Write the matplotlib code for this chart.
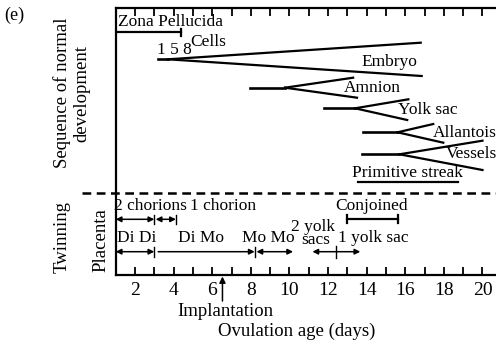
import matplotlib
matplotlib.use('Agg')
import matplotlib.pyplot as plt
from matplotlib.ticker import FixedLocator

plt.rcParams['font.family'] = ['Liberation Serif', 'DejaVu Serif']

# ---------------- data (days on x, row levels on y) ----------------
days_major = [2, 4, 6, 8, 10, 12, 14, 16, 18, 20]
days_minor = [1, 3, 5, 7, 9, 11, 13, 15, 17, 19]

fork_labels = ['Embryo', 'Amnion', 'Yolk sac', 'Allantois', 'Vessels']
fork_start = [3.2, 7.97, 11.8, 13.8, 13.78]
fork_split = [3.7, 9.77, 13.4, 15.6, 15.7]
fork_row = [59.3, 87.7, 108.3, 132.3, 154.3]
fork_up_end = [16.8, 13.3, 16.16, 17.45, 20.0]
fork_up_row = [42.7, 77.7, 99.3, 124.0, 140.7]
fork_lo_end = [16.85, 13.5, 16.1, 17.97, 20.0]
fork_lo_row = [76.0, 97.7, 120.0, 142.7, 170.0]

zona_span = [1.0, 4.4]
streak_span = [13.57, 18.72]
conjoined_span = [12.98, 15.6]

chorion_arrows = [(1.0, 3.0), (3.07, 4.12)]
amnion_arrows = [(1.0, 3.0), (8.29, 10.19)]
dimo_line = (3.2, 8.2)
yolk_arrow = (11.19, 13.67, 12.4)
implantation_day = 6.53

W, H = 496, 343
fig = plt.figure(figsize=(W / 100, H / 100), dpi=100)
ax = fig.add_axes([115.7 / W, 1 - 275 / H, 1 - 115.7 / W, (275 - 8) / H])
ax.set_xlim(1, 20.7)
ax.set_ylim(275, 8)

LW = 1.6
FS = 12.5

for s in ['left', 'top', 'bottom']:
    ax.spines[s].set_linewidth(LW)
ax.spines['right'].set_visible(False)
ax.set_yticks([])
ax.xaxis.set_major_locator(FixedLocator(days_major))
ax.xaxis.set_minor_locator(FixedLocator(days_minor))
ax.set_xticklabels([str(d) for d in days_major])
ax.tick_params(axis='x', which='both', direction='in', top=True, bottom=True,
               length=6, width=1.3, labelsize=14, pad=5)

# ---------------- sequence of normal development ----------------
ax.plot(zona_span, [32, 32], color='black', lw=LW)
ax.plot([zona_span[1]] * 2, [28.5, 35.5], color='black', lw=LW)
ax.text(1.12, 22.5, 'Zona Pellucida', fontsize=FS, ha='left', va='center')
ax.text(4.85, 41.5, 'Cells', fontsize=FS, ha='left', va='center')
ax.text(3.15, 50.5, '1 5 8', fontsize=FS, ha='left', va='center')

for i in range(len(fork_labels)):
    ax.plot([fork_start[i], fork_split[i]], [fork_row[i]] * 2, color='black', lw=LW + 0.3)
    ax.plot([fork_split[i], fork_up_end[i]], [fork_row[i], fork_up_row[i]], color='black', lw=LW)
    ax.plot([fork_split[i], fork_lo_end[i]], [fork_row[i], fork_lo_row[i]], color='black', lw=LW)

label_pos = [(15.2, 61.5), (14.3, 88.0), (17.16, 109.5), (19.1, 133.0), (19.45, 154.5)]
for lab, (lx, ly) in zip(fork_labels, label_pos):
    ax.text(lx, ly, lab, fontsize=FS, ha='center', va='center')

ax.text(16.1, 173.0, 'Primitive streak', fontsize=FS, ha='center', va='center')
ax.plot(streak_span, [181.7, 181.7], color='black', lw=LW)

# dashed separator extending beyond the axes
ax.plot([-0.74, 20.7], [192.7, 192.7], color='black', lw=1.8,
        linestyle=(0, (3.5, 2.2)), clip_on=False)

# ---------------- twinning / placenta ----------------
arrow_kw = dict(arrowstyle='<|-|>', color='black', lw=1.1, mutation_scale=8,
                shrinkA=0, shrinkB=0)
for (a, b) in chorion_arrows:
    ax.annotate('', xy=(b, 219.3), xytext=(a, 219.3), arrowprops=arrow_kw)
    ax.plot([b, b], [215, 224], color='black', lw=1.0)
for (a, b) in amnion_arrows:
    ax.annotate('', xy=(b, 251.7), xytext=(a, 251.7), arrowprops=arrow_kw)
ax.plot([3.0, 3.0], [247, 256.5], color='black', lw=1.0)
ax.annotate('', xy=(dimo_line[1], 251.7), xytext=(dimo_line[0], 251.7),
            arrowprops=dict(arrowstyle='-|>', color='black', lw=1.1, mutation_scale=8,
                            shrinkA=0, shrinkB=0))
ax.plot([8.24, 8.24], [247, 256.5], color='black', lw=1.0)
ax.annotate('', xy=(yolk_arrow[1], 251.7), xytext=(yolk_arrow[0], 251.7), arrowprops=arrow_kw)
ax.plot([yolk_arrow[2]] * 2, [246, 257.5], color='black', lw=1.0)

ax.plot(conjoined_span, [218.8, 218.8], color='black', lw=LW)
for cx in conjoined_span:
    ax.plot([cx, cx], [214.5, 223], color='black', lw=LW)

ax.text(2.81, 206.5, '2 chorions', fontsize=FS, ha='center', va='center')
ax.text(6.57, 206.5, '1 chorion', fontsize=FS, ha='center', va='center')
ax.text(14.26, 206.0, 'Conjoined', fontsize=FS, ha='center', va='center')
ax.text(2.07, 238.5, 'Di Di', fontsize=FS, ha='center', va='center')
ax.text(5.43, 238.5, 'Di Mo', fontsize=FS, ha='center', va='center')
ax.text(8.9, 238.5, 'Mo Mo', fontsize=FS, ha='center', va='center')
ax.text(11.22, 226.8, '2 yolk', fontsize=FS, ha='center', va='center')
ax.text(11.34, 240.0, 'sacs', fontsize=FS, ha='center', va='center')
ax.text(14.33, 238.5, '1 yolk sac', fontsize=FS, ha='center', va='center')

# implantation arrow below axis
ax.annotate('', xy=(implantation_day, 276.5), xytext=(implantation_day, 301),
            arrowprops=dict(arrowstyle='-|>', color='black', lw=1.1, mutation_scale=9,
                            shrinkA=0, shrinkB=0), annotation_clip=False)
ax.text(6.66, 311.5, 'Implantation', fontsize=13.5, ha='center', va='center', clip_on=False)
ax.text(10.37, 331.5, 'Ovulation age (days)', fontsize=13.5, ha='center', va='center', clip_on=False)

# ---------------- left-side labels ----------------
def ftext(x, y, s, **kw):
    fig.text(x / W, 1 - y / H, s, **kw)

ftext(14, 15, '(e)', fontsize=13, ha='center', va='center')
ftext(62, 93, 'Sequence of normal', fontsize=13.5, rotation=90, ha='center', va='center')
ftext(82, 94, 'development', fontsize=13.5, rotation=90, ha='center', va='center')
ftext(62, 237, 'Twinning', fontsize=13.5, rotation=90, ha='center', va='center')
ftext(101, 240, 'Placenta', fontsize=13.5, rotation=90, ha='center', va='center')

fig.savefig('out.png', dpi=100)
